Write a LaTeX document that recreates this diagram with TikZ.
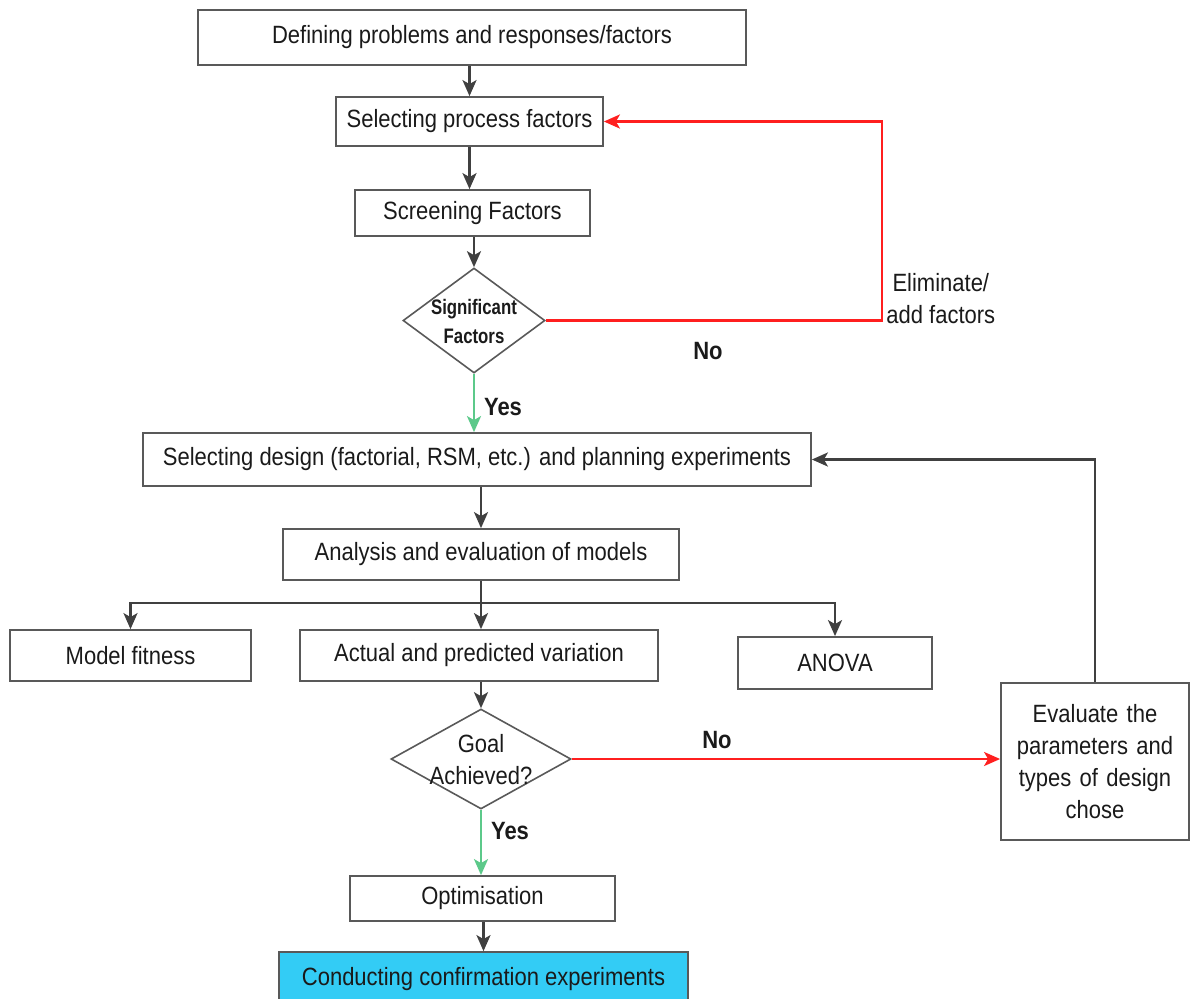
\documentclass[tikz,border=0pt]{standalone}
\usepackage{fontspec}
\setmainfont{Liberation Sans}[FakeStretch=0.88]
\newfontfamily\dfont{Liberation Sans}[FakeStretch=0.8]
\usetikzlibrary{arrows.meta,shapes.geometric}
\definecolor{bordergray}{HTML}{595959}
\definecolor{arrgray}{HTML}{404040}
\definecolor{lineRed}{HTML}{FF1F1F}
\definecolor{lineGreen}{HTML}{5CC98A}
\definecolor{confBlue}{HTML}{33CCF5}
\definecolor{txt}{HTML}{1A1A1A}
\tikzset{
  box/.style={draw=bordergray, line width=0.9pt, rectangle, inner sep=0pt, align=center, text=txt, font=\fontsize{12.5}{16}\selectfont},
  dia/.style={draw=bordergray, line width=0.8pt, diamond, inner sep=0pt},
  arr/.style={draw=arrgray, line width=1.2pt, -{Stealth[length=8pt,width=7pt,inset=2pt]}},
  redarr/.style={draw=lineRed, line width=1.2pt, -{Stealth[length=8pt,width=7pt,inset=2pt]}},
  greenarr/.style={draw=lineGreen, line width=1.2pt, -{Stealth[length=8pt,width=7pt,inset=2pt]}},
  lbl/.style={text=txt, font=\fontsize{12.5}{16}\selectfont\bfseries, inner sep=0pt},
  plain/.style={text=txt, font=\fontsize{12.5}{16}\selectfont, inner sep=0pt, align=center}
}
\begin{document}
\begin{tikzpicture}[x=0.5pt,y=-0.5pt]
\useasboundingbox (0,0) rectangle (1190,998);
\node[box, minimum width=274pt, minimum height=27.5pt] (def) at (472,37.5) {Defining problems and responses/factors};
\node[box, minimum width=133.5pt, minimum height=24.5pt] (proc) at (469.5,121.5) {Selecting process factors};
\node[box, minimum width=117.5pt, minimum height=23pt] (screen) at (472.5,213) {Screening Factors};
\node[dia, minimum width=71pt, minimum height=52.5pt] (sig) at (474,320.5) {};
\node[text=txt, font=\dfont\fontsize{10.5}{14.5}\selectfont\bfseries, align=center, inner sep=0pt] (sigtxt) at (474,321) {Significant\\Factors};
\node[box, minimum width=334pt, minimum height=26.5pt] (design) at (477,459.5) {Selecting design (factorial, RSM, etc.) and planning experiments};
\node[box, minimum width=198pt, minimum height=25.5pt] (anal) at (481,554.5) {Analysis and evaluation of models};
\node[box, minimum width=120.5pt, minimum height=25.5pt] (fit) at (130.5,655.5) {Model fitness};
\node[box, minimum width=179pt, minimum height=25.5pt] (act) at (479,655.5) {Actual and predicted variation};
\node[box, minimum width=97pt, minimum height=26pt] (anova) at (835,663) {ANOVA};
\node[dia, minimum width=90pt, minimum height=50pt] (goal) at (481,759) {};
\node[plain] (goaltxt) at (481,760) {Goal\\Achieved?};
\node[box, minimum width=94pt, minimum height=78.5pt, text width=92pt] (eval) at (1095,761.5) {Evaluate the\\parameters and\\types of design\\chose};
\node[box, minimum width=132.5pt, minimum height=22.5pt] (opt) at (482.5,898.5) {Optimisation};
\node[box, fill=confBlue, minimum width=204.5pt, minimum height=27pt] (conf) at (483.5,979) {Conducting confirmation experiments};

\coordinate (rr) at (882,0);
\coordinate (split) at (481,603);

\draw[arr] (def.south -| proc.north) -- (proc.north);
\draw[arr] (proc.south) -- (proc.south |- screen.north);
\draw[arr] (screen.south -| sig.north) -- (sig.north);
\draw[redarr] (sig.east) -- (sig.east -| rr) |- (proc.east);
\node[plain, anchor=west] (elim) at (886,299) {Eliminate/\\add factors};
\node[lbl] (no1) at (708,351) {No};
\draw[greenarr] (sig.south) -- (sig.south |- design.north);
\node[lbl] (yes1) at (503,407) {Yes};
\draw[arr] (design.south -| anal.north) -- (anal.north);
\draw[draw=arrgray, line width=1.2pt] (anal.south) -- (split);
\draw[arr] (split) -| (fit.north);
\draw[arr] (split) -| (anova.north);
\draw[arr] (split) -- (split |- act.north);
\draw[arr] (act.south -| goal.north) -- (goal.north);
\draw[redarr] (goal.east) -- (goal.east -| eval.west);
\node[lbl] (no2) at (717,740) {No};
\draw[greenarr] (goal.south) -- (goal.south |- opt.north);
\node[lbl] (yes2) at (510,831) {Yes};
\draw[arr] (eval.north) |- (design.east);
\draw[arr] (opt.south -| conf.north) -- (conf.north);
\end{tikzpicture}
\end{document}
